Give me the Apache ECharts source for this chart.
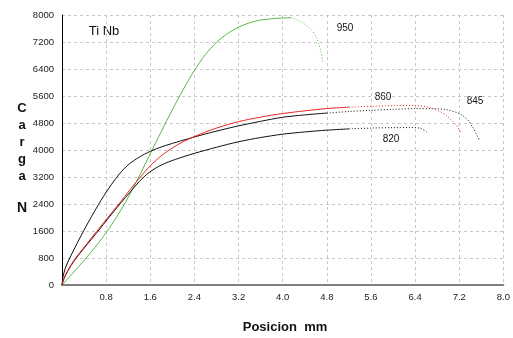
<!DOCTYPE html>
<html>
<head>
<meta charset="utf-8">
<script src="https://cdn.jsdelivr.net/npm/echarts@6/dist/echarts.min.js"></script>
<style>
  html, body { margin: 0; padding: 0; background: #fff; }
  #chart { width: 513px; height: 338px; }
</style>
</head>
<body>
<div id="chart"></div>
<script>
// x = posicion (mm), y = carga (N)
const xTicks = [0, 0.8, 1.6, 2.4, 3.2, 4.0, 4.8, 5.6, 6.4, 7.2, 8.0];
const yTicks = [0, 800, 1600, 2400, 3200, 4000, 4800, 5600, 6400, 7200, 8000];

const curve950 = [[0,0],[0.2,360],[0.4,730],[0.6,1120],[0.8,1550],[1.0,2040],[1.2,2600],[1.4,3230],[1.6,3890],[1.8,4550],[2.0,5190],[2.2,5800],[2.4,6360],[2.6,6830],[2.8,7190],[3.0,7450],[3.2,7640],[3.4,7770],[3.6,7850],[3.8,7890],[4.0,7910],[4.15,7920],[4.33,7800],[4.51,7580],[4.62,7300],[4.69,6930],[4.73,6570]];
const curve860 = [[0,0],[0.03,180],[0.1,420],[0.23,760],[0.43,1180],[0.63,1590],[0.83,2000],[1.03,2400],[1.25,2860],[1.42,3200],[1.6,3530],[1.8,3830],[2.0,4060],[2.2,4250],[2.4,4400],[2.8,4650],[3.2,4840],[3.6,4975],[4.0,5080],[4.4,5160],[4.8,5228],[5.2,5270],[5.6,5296],[6.0,5315],[6.4,5320],[6.66,5257],[6.85,5140],[6.96,5030],[7.08,4850],[7.17,4683],[7.23,4517]];
const curve845 = [[0,0],[0.02,250],[0.06,500],[0.14,800],[0.41,1660],[0.66,2380],[0.85,2870],[1.04,3290],[1.2,3560],[1.4,3790],[1.6,3960],[1.8,4090],[2.0,4195],[2.3,4340],[2.6,4475],[2.9,4600],[3.2,4715],[3.6,4850],[4.0,4970],[4.4,5040],[4.8,5095],[5.2,5140],[5.6,5177],[6.0,5205],[6.4,5226],[6.7,5225],[6.96,5197],[7.2,5080],[7.35,4900],[7.44,4683],[7.56,4310]];
const curve820 = [[0,0],[0.03,160],[0.1,400],[0.24,760],[0.45,1190],[0.65,1590],[0.85,2000],[1.05,2400],[1.25,2780],[1.4,3065],[1.58,3335],[1.8,3555],[2.06,3724],[2.4,3901],[2.8,4081],[3.2,4245],[3.6,4369],[4.0,4469],[4.4,4535],[4.8,4588],[5.2,4625],[5.6,4650],[6.0,4662],[6.3,4665],[6.49,4645],[6.61,4536]];

// posicion where each trace turns into a sparse dotted tail
const tailFrom = { "950": 4.15, "860": 5.2, "845": 4.6, "820": 5.2 };

const curveLabels = ["950", "860", "845", "820"];

const chart = echarts.init(document.getElementById("chart"), null, { renderer: "canvas" });

function trace(name, data, color) {
  const cut = data.findIndex(p => p[0] >= tailFrom[name]);
  return [
    { name, type: "line", data: data.slice(0, cut + 1), showSymbol: false, smooth: 0.3,
      lineStyle: { color, width: 1 }, silent: true },
    { name: name + "-tail", type: "line", data: data.slice(cut), showSymbol: false, smooth: 0.3,
      lineStyle: { color, width: 1, type: [1, 2] }, silent: true }
  ];
}

const txt = (text, x, y, size, weight) => ({
  type: "text", x, y,
  style: { text, fill: "#111", font: `${weight || "normal"} ${size}px "Liberation Sans", Arial, sans-serif`,
    textAlign: "center", textVerticalAlign: "middle" }
});

chart.setOption({
  backgroundColor: "#fff",
  animation: false,
  grid: { left: 62, right: 5, top: 15, bottom: 53, containLabel: false },
  xAxis: {
    type: "value", min: xTicks[0], max: xTicks[xTicks.length - 1], interval: 0.8,
    axisLine: { onZero: false, lineStyle: { color: "#808080", width: 2 } },
    axisTick: { show: false },
    axisLabel: { color: "#222", fontSize: 9.5, fontFamily: "Liberation Sans", margin: 7,
      formatter: v => v === 0 ? "" : v.toFixed(1) },
    splitLine: { show: true, lineStyle: { color: "#c8c8c8", type: [3, 3], width: 1 } }
  },
  yAxis: {
    type: "value", min: yTicks[0], max: yTicks[yTicks.length - 1], interval: 800,
    axisLine: { show: true, onZero: false, lineStyle: { color: "#000", width: 1 } },
    axisTick: { show: false },
    axisLabel: { color: "#222", fontSize: 9.5, fontFamily: "Liberation Sans", margin: 8,
      formatter: v => String(v) },
    splitLine: { show: true, lineStyle: { color: "#c8c8c8", type: [3, 3], width: 1 } }
  },
  series: [
    ...trace("950", curve950, "#55bb44"),
    ...trace("845", curve845, "#111"),
    ...trace("820", curve820, "#111"),
    ...trace("860", curve860, "#ee2222")
  ],
  graphic: [
    txt("Ti Nb", 104, 31, 13),
    txt(curveLabels[0], 345, 28, 10),
    txt(curveLabels[1], 383, 97, 10),
    txt(curveLabels[2], 475, 101, 10),
    txt(curveLabels[3], 391, 139, 10),
    { type: "text", x: 22, y: 100,
      style: { text: "C\na\nr\ng\na", fill: "#111", font: 'bold 13px "Liberation Sans", Arial, sans-serif',
        textAlign: "center", lineHeight: 17 } },
    txt("N", 22, 208, 14, "bold"),
    txt("Posicion  mm", 285, 327, 13, "bold")
  ]
});
</script>
</body>
</html>
